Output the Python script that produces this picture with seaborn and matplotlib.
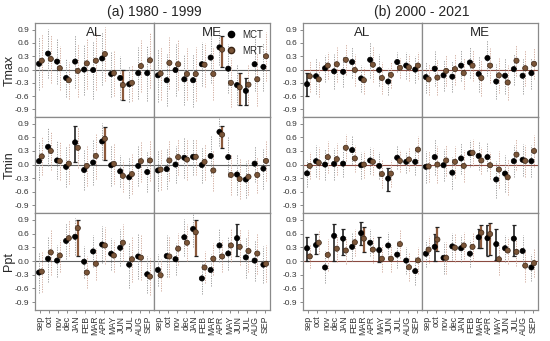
import pandas as pd
import matplotlib
matplotlib.use("Agg")
import matplotlib.pyplot as plt
from matplotlib.lines import Line2D
import seaborn as sns

months = ["sep", "oct", "nov", "dec", "JAN", "FEB", "MAR", "APR", "MAY", "JUN", "JUL", "AUG", "SEP"]
periods = ["a", "b"]
period_titles = ["(a) 1980 - 1999", "(b) 2000 - 2021"]
variables = ["Tmax", "Tmin", "Ppt"]
regions = ["AL", "ME"]
yticks = [-0.9, -0.6, -0.3, 0.0, 0.3, 0.6, 0.9]

# --- (a) 1980 - 1999 ---
tmax_a_al_mct = [0.13, 0.36, 0.18, -0.19, 0.18, 0.0, -0.01, 0.25, -0.1, -0.19, -0.33, -0.08, -0.08]
tmax_a_al_mrt = [0.2, 0.24, 0.03, -0.24, -0.03, 0.14, 0.2, 0.35, -0.08, -0.35, -0.3, 0.08, 0.21]
tmax_a_me_mct = [-0.13, -0.24, -0.01, -0.22, -0.24, 0.12, 0.27, 0.5, 0.02, -0.35, -0.48, 0.12, 0.06]
tmax_a_me_mrt = [-0.09, 0.15, 0.12, -0.1, -0.1, 0.11, -0.1, 0.45, -0.3, -0.4, -0.34, -0.22, 0.3]
tmin_a_al_mct = [0.075, 0.39, 0.09, -0.05, 0.49, -0.12, 0.045, 0.51, -0.015, -0.15, -0.28, -0.03, -0.165]
tmin_a_al_mrt = [0.18, 0.3, 0.075, 0.02, 0.37, -0.03, 0.19, 0.57, 0.015, -0.25, -0.21, 0.075, 0.09]
tmin_a_me_mct = [-0.13, -0.1, 0.0, 0.15, 0.17, -0.01, 0.19, 0.72, 0.165, -0.22, -0.33, 0.02, -0.09]
tmin_a_me_mrt = [-0.11, 0.09, 0.165, 0.11, 0.17, 0.06, -0.13, 0.66, -0.23, -0.32, -0.27, -0.23, 0.08]
ppt_a_al_mct = [-0.25, 0.05, 0.01, 0.44, 0.53, -0.015, 0.21, 0.36, 0.16, 0.29, -0.08, 0.1, -0.29]
ppt_a_al_mrt = [-0.23, 0.19, 0.12, 0.5, 0.72, -0.25, -0.06, 0.34, 0.12, 0.4, 0.04, 0.075, -0.34]
ppt_a_me_mct = [-0.195, 0.11, 0.04, 0.52, 0.7, -0.38, -0.195, 0.34, 0.165, 0.5, 0.08, 0.01, -0.08]
ppt_a_me_mrt = [-0.31, 0.1, 0.27, 0.4, 0.63, -0.14, 0.05, 0.1, 0.34, 0.31, 0.22, 0.165, -0.06]

# --- (b) 2000 - 2021 ---
tmax_b_al_mct = [-0.33, -0.15, 0.03, -0.04, -0.05, 0.17, -0.2, 0.22, -0.01, -0.27, 0.17, 0.09, 0.0]
tmax_b_al_mrt = [-0.15, -0.22, 0.09, 0.12, 0.22, -0.01, -0.24, 0.11, -0.19, -0.12, 0.04, 0.05, 0.09]
tmax_b_me_mct = [-0.17, 0.02, -0.13, -0.16, 0.09, 0.16, -0.1, 0.26, -0.27, -0.14, 0.01, -0.14, -0.08]
tmax_b_me_mrt = [-0.22, -0.18, -0.03, 0.01, -0.08, 0.09, -0.19, 0.09, -0.13, -0.29, 0.2, 0.03, 0.13]
tmin_b_al_mct = [-0.195, 0.075, 0.0, 0.015, 0.02, 0.32, -0.015, 0.09, -0.03, -0.31, 0.15, 0.06, 0.06]
tmin_b_al_mrt = [-0.03, 0.04, 0.165, 0.12, 0.37, 0.135, 0.0, 0.06, -0.21, -0.2, 0.08, 0.11, 0.33]
tmin_b_me_mct = [-0.05, 0.165, -0.015, -0.18, 0.135, 0.25, 0.19, 0.165, -0.33, -0.2, 0.075, 0.105, 0.075]
tmin_b_me_mrt = [-0.04, 0.0, 0.09, 0.06, -0.03, 0.26, 0.09, -0.015, -0.11, -0.28, 0.22, 0.08, 0.3]
ppt_b_al_mct = [0.28, 0.35, -0.14, 0.55, 0.49, 0.31, 0.61, 0.4, 0.24, 0.34, 0.14, 0.01, -0.22]
ppt_b_al_mrt = [0.1, 0.4, 0.135, 0.27, 0.23, 0.41, 0.49, 0.25, 0.05, 0.05, 0.37, -0.135, 0.015]
ppt_b_me_mct = [0.16, 0.31, 0.07, 0.32, 0.28, 0.16, 0.52, 0.5, 0.37, 0.28, 0.49, 0.22, -0.14]
ppt_b_me_mrt = [0.25, 0.47, 0.07, 0.29, 0.34, 0.31, 0.62, 0.59, 0.04, 0.23, 0.2, -0.1, -0.045]

# half-width of the dotted ranges (read roughly)
tmax_a_al_spread = [0.6, 0.55, 0.5, 0.42, 0.6, 0.58, 0.65, 0.6, 0.52, 0.5, 0.4, 0.58, 0.62]
tmax_a_me_spread = [0.6, 0.58, 0.58, 0.58, 0.6, 0.5, 0.58, 0.4, 0.55, 0.45, 0.45, 0.6, 0.55]
tmin_a_al_spread = [0.42, 0.42, 0.42, 0.45, 0.45, 0.45, 0.5, 0.4, 0.45, 0.35, 0.45, 0.45, 0.45]
tmin_a_me_spread = [0.45, 0.45, 0.4, 0.45, 0.4, 0.4, 0.45, 0.3, 0.45, 0.45, 0.4, 0.4, 0.45]
ppt_a_al_spread = [0.45, 0.5, 0.35, 0.4, 0.4, 0.35, 0.35, 0.4, 0.35, 0.4, 0.5, 0.5, 0.4]
ppt_a_me_spread = [0.35, 0.45, 0.35, 0.4, 0.4, 0.35, 0.35, 0.35, 0.35, 0.4, 0.45, 0.45, 0.4]
tmax_b_al_spread = [0.35, 0.4, 0.3, 0.4, 0.35, 0.35, 0.3, 0.4, 0.35, 0.3, 0.22, 0.3, 0.3]
tmax_b_me_spread = [0.35, 0.4, 0.35, 0.35, 0.35, 0.35, 0.4, 0.4, 0.4, 0.4, 0.35, 0.4, 0.35]
tmin_b_al_spread = [0.3, 0.35, 0.35, 0.35, 0.3, 0.3, 0.3, 0.3, 0.3, 0.3, 0.25, 0.25, 0.3]
tmin_b_me_spread = [0.35, 0.4, 0.35, 0.35, 0.35, 0.3, 0.3, 0.3, 0.4, 0.4, 0.35, 0.35, 0.35]
ppt_b_al_spread = [0.25, 0.25, 0.35, 0.3, 0.3, 0.3, 0.25, 0.3, 0.3, 0.3, 0.3, 0.3, 0.3]
ppt_b_me_spread = [0.3, 0.3, 0.35, 0.3, 0.3, 0.3, 0.25, 0.35, 0.35, 0.3, 0.3, 0.35, 0.3]

# significant intervals drawn as solid error bars: (period, var, region, series, month, low, high)
sig_bars = [
    ("a", "Tmax", "AL", "MRT", 9, -0.69, -0.02),
    ("a", "Tmax", "ME", "MRT", 7, 0.06, 0.75),
    ("a", "Tmax", "ME", "MRT", 9, -0.8, -0.07),
    ("a", "Tmax", "ME", "MCT", 10, -0.79, -0.18),
    ("b", "Tmax", "AL", "MCT", 0, -0.6, -0.075),
    ("a", "Tmin", "AL", "MCT", 4, 0.055, 0.86),
    ("a", "Tmin", "AL", "MRT", 7, 0.1, 0.82),
    ("a", "Tmin", "ME", "MRT", 7, 0.36, 0.85),
    ("b", "Tmin", "AL", "MCT", 9, -0.58, -0.075),
    ("a", "Ppt", "AL", "MRT", 4, 0.11, 0.9),
    ("a", "Ppt", "ME", "MRT", 4, 0.1, 0.9),
    ("a", "Ppt", "ME", "MCT", 9, 0.1, 0.8),
    ("b", "Ppt", "AL", "MCT", 0, 0.0, 0.53),
    ("b", "Ppt", "AL", "MCT", 1, 0.16, 0.6),
    ("b", "Ppt", "AL", "MCT", 3, 0.01, 0.82),
    ("b", "Ppt", "AL", "MCT", 4, 0.13, 0.7),
    ("b", "Ppt", "AL", "MCT", 6, 0.35, 0.85),
    ("b", "Ppt", "AL", "MRT", 6, 0.19, 0.74),
    ("b", "Ppt", "AL", "MCT", 8, -0.01, 0.52),
    ("b", "Ppt", "ME", "MCT", 1, 0.01, 0.59),
    ("b", "Ppt", "ME", "MRT", 1, 0.22, 0.74),
    ("b", "Ppt", "ME", "MCT", 6, 0.29, 0.71),
    ("b", "Ppt", "ME", "MRT", 6, 0.29, 0.78),
    ("b", "Ppt", "ME", "MCT", 7, 0.1, 0.79),
    ("b", "Ppt", "ME", "MRT", 7, 0.13, 0.83),
    ("b", "Ppt", "ME", "MCT", 8, 0.02, 0.7),
    ("b", "Ppt", "ME", "MCT", 10, 0.11, 0.79),
]

# build a long table from the named lists
g = globals()
rows = []
for p in periods:
    for v in variables:
        for r in regions:
            spread = g[f"{v.lower()}_{p}_{r.lower()}_spread"]
            for s in ["MCT", "MRT"]:
                vals = g[f"{v.lower()}_{p}_{r.lower()}_{s.lower()}"]
                for i, m in enumerate(months):
                    rows.append(dict(period=p, var=v, region=r, series=s, month=i,
                                     value=vals[i], spread=spread[i]))
df = pd.DataFrame(rows)
offset = {"MCT": -0.15, "MRT": 0.15}
df["x"] = df["month"] + df["series"].map(offset)

sns.set_theme(style="white")
plt.rcParams['font.family'] = ['Liberation Sans', 'DejaVu Sans']

colors = {"MCT": "#000000", "MRT": "#7a5538"}
edge = {"MCT": "#000000", "MRT": "#3a2414"}
dot_col = {"MCT": "#9a9a9a", "MRT": "#d0aa9c"}
bar_col = {"MCT": "#111111", "MRT": "#8c5a3c"}

fig = plt.figure(figsize=(5.5, 3.41), dpi=100)
W, H = 550, 341
block_left = [35, 303]
panel_w = [119, 116]
row_top = [23, 117, 213]
row_h = [94, 96, 97]

for bi, p in enumerate(periods):
    for vi, v in enumerate(variables):
        for ri, r in enumerate(regions):
            x0 = block_left[bi] + (0 if ri == 0 else panel_w[0])
            w = panel_w[ri]
            ax = fig.add_axes([x0 / W, 1 - (row_top[vi] + row_h[vi]) / H, w / W, row_h[vi] / H])
            sub = df[(df.period == p) & (df["var"] == v) & (df.region == r)]
            sig = [b for b in sig_bars if b[0] == p and b[1] == v and b[2] == r]

            zero_c = "#606060" if p == "a" else "#8a4a40"
            ax.axhline(0, color=zero_c, lw=0.8, zorder=1)

            for s in ["MCT", "MRT"]:
                ss = sub[sub.series == s]
                sig_idx = {b[4] for b in sig if b[3] == s}
                plain = ss[~ss.month.isin(sig_idx)]
                ax.vlines(plain.x, plain.value - plain.spread, plain.value + plain.spread,
                          colors=dot_col[s], linestyles=(0, (1.2, 1.3)), lw=0.7, zorder=1)
                for b in sig:
                    if b[3] != s:
                        continue
                    xb = b[4] + offset[s]
                    ax.vlines(xb, b[5], b[6], colors=bar_col[s],
                              lw=1.6 if s == "MRT" else 1.1, zorder=2)
                    ax.hlines([b[5], b[6]], xb - 0.22, xb + 0.22, colors="#222222", lw=0.9, zorder=2)

            sns.scatterplot(data=sub, x="x", y="value", hue="series", palette=colors,
                            hue_order=["MCT", "MRT"], s=14, linewidth=0.5,
                            edgecolor=[edge[s] for s in sub.series], legend=False, ax=ax, zorder=3)

            ax.set_xlim(-0.6, 12.6)
            ax.set_ylim(-1.07, 1.05)
            ax.set_xlabel("")
            ax.set_ylabel("")
            ax.set_xticks(range(len(months)))
            ax.set_yticks(yticks)
            for sp in ax.spines.values():
                sp.set_color("#8a8a8a")
                sp.set_linewidth(0.9)
            ax.tick_params(axis="both", length=2.5, width=0.6, color="#777777",
                           labelsize=6, labelcolor="#333333", pad=1.5)
            ax.tick_params(axis="x", bottom=True)
            if vi == 2:
                ax.set_xticklabels(months, rotation=90, fontsize=6.3)
            else:
                ax.set_xticklabels([])
            if ri == 0:
                ax.tick_params(axis="y", left=True)
                ax.set_yticklabels([f"{t:.1f}" for t in yticks])
                if bi == 0:
                    ax.set_ylabel(v, fontsize=9, va="center")
                    ax.yaxis.set_label_coords(-0.215, 0.5)
            else:
                ax.tick_params(axis="y", left=False)
                ax.set_yticklabels([])
            if vi == 0:
                ax.text(0.5, 0.96, r, transform=ax.transAxes, ha="center", va="top", fontsize=9.5)
            if vi == 0 and bi == 0 and ri == 1:
                handles = [Line2D([], [], marker="o", ls="", color=colors[s], markeredgecolor=edge[s],
                                  markersize=4.5, label=s) for s in ["MCT", "MRT"]]
                ax.legend(handles=handles, loc="upper right", frameon=False, fontsize=7,
                          handletextpad=0.2, borderaxespad=0.3, labelspacing=0.6)

    xc = (block_left[bi] + panel_w[0]) / W
    fig.text(xc, 1 - 12 / H, period_titles[bi], ha="center", va="center", fontsize=10)

fig.savefig("out.png", dpi=100)
